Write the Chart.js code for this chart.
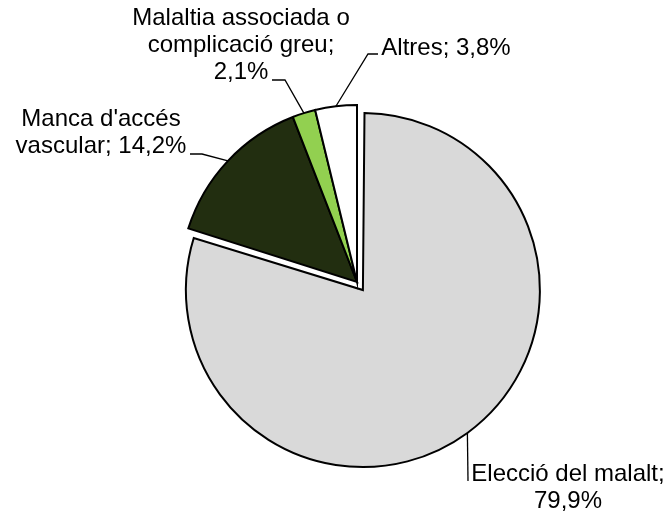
<!DOCTYPE html>
<html>
<head>
<meta charset="utf-8">
<script src="https://cdn.jsdelivr.net/npm/chart.js@4/dist/chart.umd.min.js"></script>
<style>
  body { margin: 0; background: #fff; }
  canvas { display: block; }
</style>
</head>
<body>
<canvas id="pieChart" width="668" height="517"></canvas>
<script>
// categories and values (%)
const categories = ['Elecció del malalt', "Manca d'accés vascular", 'Malaltia associada o complicació greu', 'Altres'];
const values = [79.9, 14.2, 2.1, 3.8];
const sliceColors = ['#d9d9d9', '#222e10', '#92d050', '#ffffff'];
const sliceOffsets = [40, 0, 0, 0]; // only the big slice is pulled out

// label placement: centre x, first baseline, wrap width, leader elbow + end
const labelLayout = [
  { x: 568, y: 481, wrap: 205, leader: [[468, 481]] },
  { x: 101, y: 126, wrap: 180, leader: [[202, 154], [190, 154]] },
  { x: 241, y: 25, wrap: 232, leader: [[285, 80], [272, 80]] },
  { x: 446, y: 55, wrap: 200, leader: [[368, 54], [378, 54]] },
];
const FONT = '24px "Liberation Sans", Arial, sans-serif';
const LINE_H = 27;

const fmt = (v) => v.toFixed(1).replace('.', ',') + '%';

function wrapText(ctx, text, maxW) {
  const words = text.split(' ');
  const lines = [];
  let cur = '';
  words.forEach((w) => {
    const test = cur ? cur + ' ' + w : w;
    if (cur && ctx.measureText(test).width > maxW) {
      lines.push(cur);
      cur = w;
    } else {
      cur = test;
    }
  });
  if (cur) lines.push(cur);
  return lines;
}

// keep the exploded slice at the same radius as the rest
const explodeFix = {
  id: 'explodeFix',
  afterDatasetUpdate(chart, args) {
    args.meta.data.forEach((arc, i) => {
      const off = (sliceOffsets[i] || 0) / 4;
      if (off && arc.circumference >= Math.PI) arc.outerRadius -= off;
    });
  },
};

const labelsPlugin = {
  id: 'sliceLabels',
  afterDraw(chart) {
    const ctx = chart.ctx;
    const meta = chart.getDatasetMeta(0);
    ctx.save();
    ctx.font = FONT;
    ctx.fillStyle = '#000';
    ctx.strokeStyle = '#000';
    ctx.lineWidth = 1.3;
    meta.data.forEach((arc, i) => {
      const lay = labelLayout[i];
      const mid = (arc.startAngle + arc.endAngle) / 2;
      const off = (sliceOffsets[i] || 0) / 4;
      const r = arc.outerRadius + (off && arc.circumference >= Math.PI ? off : 0);
      const px = arc.x + Math.cos(mid) * (r + off);
      const py = arc.y + Math.sin(mid) * (r + off);
      // leader line
      ctx.beginPath();
      ctx.moveTo(px, py);
      lay.leader.forEach((p) => ctx.lineTo(p[0], p[1]));
      ctx.stroke();
      // text
      const lines = wrapText(ctx, categories[i] + '; ' + fmt(values[i]), lay.wrap);
      ctx.textAlign = 'center';
      ctx.textBaseline = 'alphabetic';
      lines.forEach((ln, k) => ctx.fillText(ln, lay.x, lay.y + k * LINE_H));
    });
    ctx.restore();
  },
};

new Chart(document.getElementById('pieChart').getContext('2d'), {
  type: 'pie',
  data: {
    labels: categories,
    datasets: [
      {
        data: values,
        backgroundColor: sliceColors,
        borderColor: '#000',
        borderWidth: 2,
        borderJoinStyle: 'miter',
        offset: sliceOffsets,
      },
    ],
  },
  options: {
    responsive: false,
    animation: false,
    events: [],
    radius: 177,
    layout: { padding: { left: 46, right: 0, top: 47, bottom: 0 } },
    plugins: {
      legend: { display: false },
      tooltip: { enabled: false },
    },
  },
  plugins: [explodeFix, labelsPlugin],
});
</script>
</body>
</html>
